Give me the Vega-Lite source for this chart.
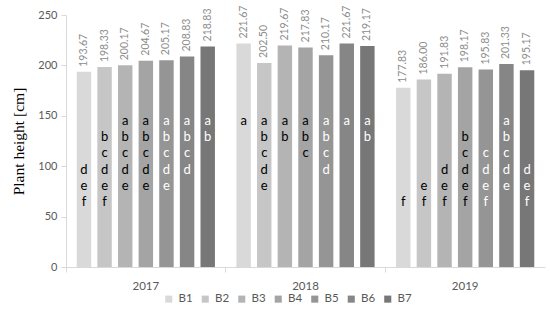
{
  "$schema": "https://vega.github.io/schema/vega-lite/v6.json",
  "autosize": "none",
  "width": 479,
  "height": 252,
  "padding": {"left": 66, "top": 15, "right": 5, "bottom": 53},
  "background": "white",
  "config": {
    "view": {"stroke": null},
    "font": "Lato",
    "axis": {"domainColor": "#d9d9d9", "tickColor": "#d9d9d9", "labelColor": "#595959", "labelFont": "Lato", "labelFontSize": 11, "grid": false}
  },
  "data": {"values": [
    {"year": "2017", "trt": "B1", "height": 193.67, "letters": ["d","e","f"]},
    {"year": "2017", "trt": "B2", "height": 198.33, "letters": ["b","c","d","e","f"]},
    {"year": "2017", "trt": "B3", "height": 200.17, "letters": ["a","b","c","d","e"]},
    {"year": "2017", "trt": "B4", "height": 204.67, "letters": ["a","b","c","d","e"]},
    {"year": "2017", "trt": "B5", "height": 205.17, "letters": ["a","b","c","d","e"]},
    {"year": "2017", "trt": "B6", "height": 208.83, "letters": ["a","b","c","d"]},
    {"year": "2017", "trt": "B7", "height": 218.83, "letters": ["a","b"]},
    {"year": "2018", "trt": "B1", "height": 221.67, "letters": ["a"]},
    {"year": "2018", "trt": "B2", "height": 202.50, "letters": ["a","b","c","d","e"]},
    {"year": "2018", "trt": "B3", "height": 219.67, "letters": ["a","b"]},
    {"year": "2018", "trt": "B4", "height": 217.83, "letters": ["a","b","c"]},
    {"year": "2018", "trt": "B5", "height": 210.17, "letters": ["a","b","c","d"]},
    {"year": "2018", "trt": "B6", "height": 221.67, "letters": ["a"]},
    {"year": "2018", "trt": "B7", "height": 219.17, "letters": ["a","b"]},
    {"year": "2019", "trt": "B1", "height": 177.83, "letters": ["f"]},
    {"year": "2019", "trt": "B2", "height": 186.00, "letters": ["e","f"]},
    {"year": "2019", "trt": "B3", "height": 191.83, "letters": ["d","e","f"]},
    {"year": "2019", "trt": "B4", "height": 198.17, "letters": ["b","c","d","e","f"]},
    {"year": "2019", "trt": "B5", "height": 195.83, "letters": ["c","d","e","f"]},
    {"year": "2019", "trt": "B6", "height": 201.33, "letters": ["a","b","c","d","e"]},
    {"year": "2019", "trt": "B7", "height": 195.17, "letters": ["d","e","f"]}
  ]},
  "encoding": {
    "x": {"field": "year", "type": "nominal", "scale": {"paddingInner": 0, "paddingOuter": 0},
      "axis": {"title": null, "labelAngle": 0, "bandPosition": 0, "tickSize": 5, "labelPadding": 8, "labelFontSize": 11.5}},
    "xOffset": {"field": "trt", "type": "nominal", "scale": {"paddingInner": 0.3, "paddingOuter": 0.52}}
  },
  "layer": [
    {
      "mark": {"type": "bar"},
      "encoding": {
        "y": {"field": "height", "type": "quantitative", "scale": {"domain": [0, 250]},
          "axis": {"title": "Plant height [cm]", "titleFont": "Liberation Serif", "titleFontSize": 15.5, "titleFontWeight": "normal", "titleColor": "black", "titlePadding": 11, "values": [0, 50, 100, 150, 200, 250], "tickSize": 5, "labelPadding": 4}},
        "color": {"field": "trt", "type": "nominal",
          "scale": {"range": ["#d9d9d9", "#c6c6c6", "#b4b4b4", "#a4a4a4", "#959595", "#868686", "#777777"]},
          "legend": {"title": null, "orient": "none", "direction": "horizontal", "legendX": 97, "legendY": 278, "symbolType": "square", "symbolSize": 50, "symbolStrokeWidth": 0, "labelFontSize": 11.5, "labelColor": "#595959", "labelFont": "Lato", "columnPadding": 6.5, "labelOffset": 4, "padding": 0}}
      }
    },
    {
      "mark": {"type": "text", "angle": 270, "align": "left", "baseline": "middle", "dx": 5, "fontSize": 10.5, "color": "#8c8c8c"},
      "encoding": {
        "y": {"field": "height", "type": "quantitative", "scale": {"domain": [0, 250]}, "axis": null},
        "text": {"field": "height", "type": "quantitative", "format": ".2f"}
      }
    },
    {
      "transform": [{"flatten": ["letters"], "as": ["letter"]}],
      "mark": {"type": "text", "baseline": "middle", "fontSize": 13},
      "encoding": {
        "y": {"field": "letter", "type": "ordinal", "scale": {"type": "point", "domain": ["a","b","c","d","e","f"], "range": [98, 195]}, "axis": null},
        "text": {"field": "letter"},
        "color": {"condition": {"test": "indexof(['B5','B6','B7'], datum.trt) >= 0", "value": "white"}, "value": "black"}
      }
    }
  ],
  "resolve": {"scale": {"y": "independent"}}
}
